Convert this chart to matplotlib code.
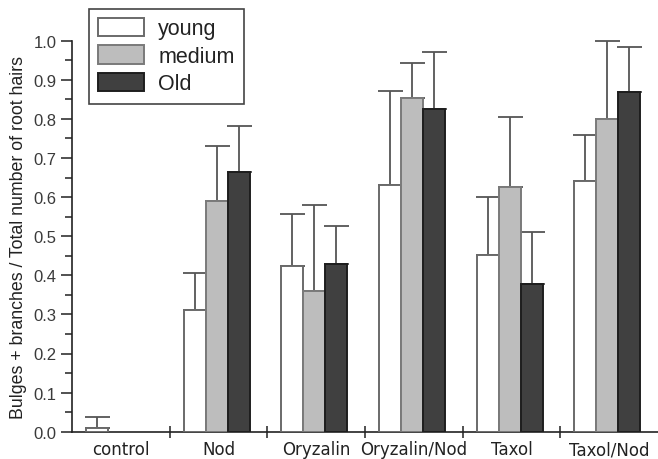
import matplotlib
matplotlib.use("Agg")
import matplotlib.pyplot as plt
import numpy as np
from matplotlib.ticker import MultipleLocator, FixedLocator, NullFormatter

categories = ["control", "Nod", "Oryzalin", "Oryzalin/Nod", "Taxol", "Taxol/Nod"]
series_names = ["young", "medium", "Old"]
young = [0.01, 0.31, 0.423, 0.632, 0.452, 0.641]
medium = [0.0, 0.589, 0.359, 0.853, 0.626, 0.799]
old = [0.0, 0.664, 0.43, 0.826, 0.377, 0.870]
young_err = [0.028, 0.095, 0.133, 0.240, 0.148, 0.117]
medium_err = [0.0, 0.141, 0.222, 0.090, 0.178, 0.201]
old_err = [0.0, 0.117, 0.097, 0.145, 0.133, 0.115]

values = [young, medium, old]
errors = [young_err, medium_err, old_err]
faces = ["#ffffff", "#bdbdbd", "#404040"]
edges = ["#6a6a6a", "#7a7a7a", "#1e1e1e"]

fig = plt.figure(figsize=(6.58, 4.6), dpi=100)
ax = fig.add_axes([72/658, 27.3/460, 1 - 72/658, (432.7 - 41.7)/460])

x = np.arange(len(categories))
w = 0.225
offsets = [-w, 0, w]
handles = []
for i in range(3):
    vals = np.array(values[i])
    errs = np.array(errors[i])
    pos = x + offsets[i] - 0.02
    mask = vals > 0
    b = ax.bar(pos[mask], vals[mask], width=w, color=faces[i], edgecolor=edges[i],
               linewidth=1.4, label=series_names[i], zorder=3)
    handles.append(b)
    ax.errorbar(pos[mask], vals[mask], yerr=[np.zeros(mask.sum()), errs[mask]],
                fmt="none", ecolor="#555555", elinewidth=1.3, capsize=9,
                capthick=1.3, zorder=2, clip_on=False)

ax.set_xlim(-0.5, 5.5)
ax.set_ylim(0, 1.0)
ax.spines["top"].set_visible(False)
ax.spines["right"].set_visible(False)
for s in ["left", "bottom"]:
    ax.spines[s].set_linewidth(1.2)
    ax.spines[s].set_color("#222222")

ax.yaxis.set_minor_locator(MultipleLocator(0.05))
ax.set_yticks(np.round(np.arange(0, 1.01, 0.1), 1))
ax.set_yticklabels([f"{v:.1f}" for v in np.arange(0, 1.01, 0.1)],
                   fontfamily="Liberation Sans", fontsize=12, color="#3a3a3a")
ax.tick_params(axis="y", which="major", length=8, width=1.1, direction="out", color="#222222", pad=3)
ax.tick_params(axis="y", which="minor", length=5, width=1.1, direction="out", color="#222222")

ax.set_xticks(x)
ax.set_xticklabels(categories, fontfamily="DejaVu Sans", fontsize=12, color="#222222")
ax.tick_params(axis="x", which="major", length=0, pad=6)
ax.xaxis.set_minor_locator(FixedLocator(np.arange(0.5, 5.5, 1.0)))
ax.xaxis.set_minor_formatter(NullFormatter())
ax.tick_params(axis="x", which="minor", length=9, width=1.1, direction="inout", color="#222222")

ax.set_ylabel("Bulges + branches / Total number of root hairs",
              fontfamily="Liberation Sans", fontsize=12.8, color="#222222", labelpad=5)

leg = ax.legend(handles=handles, labels=series_names, loc="upper left",
                bbox_to_anchor=(17/586, 1 + 32/391), frameon=True, fancybox=False,
                edgecolor="#444444", framealpha=1, handlelength=2.14, handleheight=0.93,
                borderpad=0.42, labelspacing=0.28, handletextpad=0.65, borderaxespad=0,
                prop={"family": "Liberation Sans", "size": 15.5})
leg.get_frame().set_linewidth(1.2)
for t in leg.get_texts():
    t.set_color("#222222")

fig.savefig("out.png", dpi=100)
